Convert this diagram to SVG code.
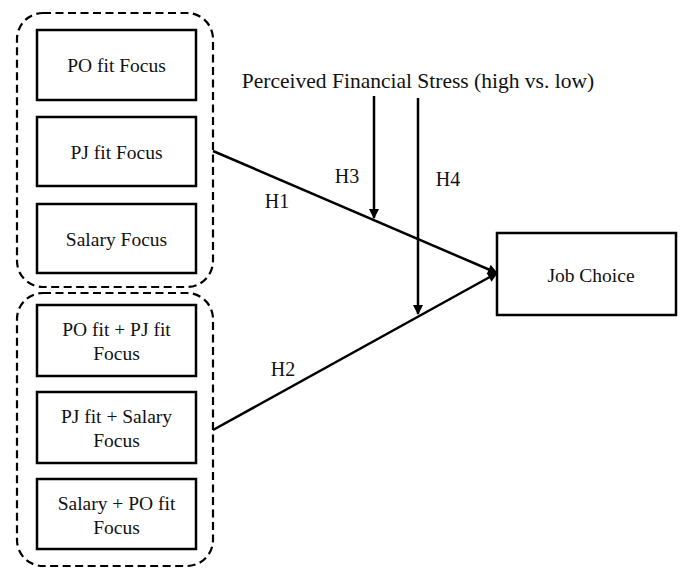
<svg xmlns="http://www.w3.org/2000/svg" width="688" height="568" viewBox="0 0 688 568">
<style>
.box{fill:#fff;stroke:#000;stroke-width:2.5}
.grp{fill:none;stroke:#000;stroke-width:2.2;stroke-dasharray:8,4.5}
.t{font-family:"Liberation Serif",serif;font-size:19.5px;fill:#111;text-anchor:middle}
.lbl{font-family:"Liberation Serif",serif;font-size:20px;fill:#111;text-anchor:middle}
.mod{font-size:21.5px}
.c{stroke:#000;stroke-width:2.5;fill:none}
</style>
<defs>
<marker id="ah" viewBox="0 0 10 10" refX="9" refY="5" markerWidth="4.5" markerHeight="4" orient="auto" markerUnits="strokeWidth">
<path d="M0,0 L10,5 L0,10 z" fill="#000"/>
</marker>
</defs>
<rect fill="#fff" width="688" height="568"/>
<g id="group1"><rect class="grp" x="17" y="13" width="196" height="274" rx="26"/></g>
<g id="group2"><rect class="grp" x="17" y="293" width="196" height="273" rx="26"/></g>
<g id="n1"><rect class="box" x="37" y="30" width="159" height="70"/><text class="t" x="116.5" y="72">PO fit Focus</text></g>
<g id="n2"><rect class="box" x="37" y="117" width="159" height="69"/><text class="t" x="116.5" y="159">PJ fit Focus</text></g>
<g id="n3"><rect class="box" x="37" y="204" width="159" height="69"/><text class="t" x="116.5" y="246">Salary Focus</text></g>
<g id="n4"><rect class="box" x="37" y="305" width="159" height="71"/><text class="t" x="116.5" y="336">PO fit + PJ fit</text><text class="t" x="116.5" y="360">Focus</text></g>
<g id="n5"><rect class="box" x="37" y="392" width="159" height="71"/><text class="t" x="116.5" y="423">PJ fit + Salary</text><text class="t" x="116.5" y="447">Focus</text></g>
<g id="n6"><rect class="box" x="37" y="479" width="159" height="70"/><text class="t" x="116.5" y="510">Salary + PO fit</text><text class="t" x="116.5" y="534">Focus</text></g>
<g id="n7"><rect class="box" x="497" y="233" width="179" height="82"/><text class="t" x="591" y="282">Job Choice</text></g>
<g id="moderator"><text class="lbl mod" x="418" y="88">Perceived Financial Stress (high vs. low)</text></g>
<g id="connectors">
<line class="c" x1="213" y1="151" x2="497" y2="273" marker-end="url(#ah)"/>
<line class="c" x1="213" y1="430" x2="497" y2="273" marker-end="url(#ah)"/>
<line class="c" x1="374" y1="96" x2="374" y2="218" marker-end="url(#ah)"/>
<line class="c" x1="418" y1="98" x2="418" y2="314" marker-end="url(#ah)"/>
<text class="lbl" x="277" y="208">H1</text>
<text class="lbl" x="283" y="376">H2</text>
<text class="lbl" x="347" y="183">H3</text>
<text class="lbl" x="448" y="186">H4</text>
</g>
</svg>
